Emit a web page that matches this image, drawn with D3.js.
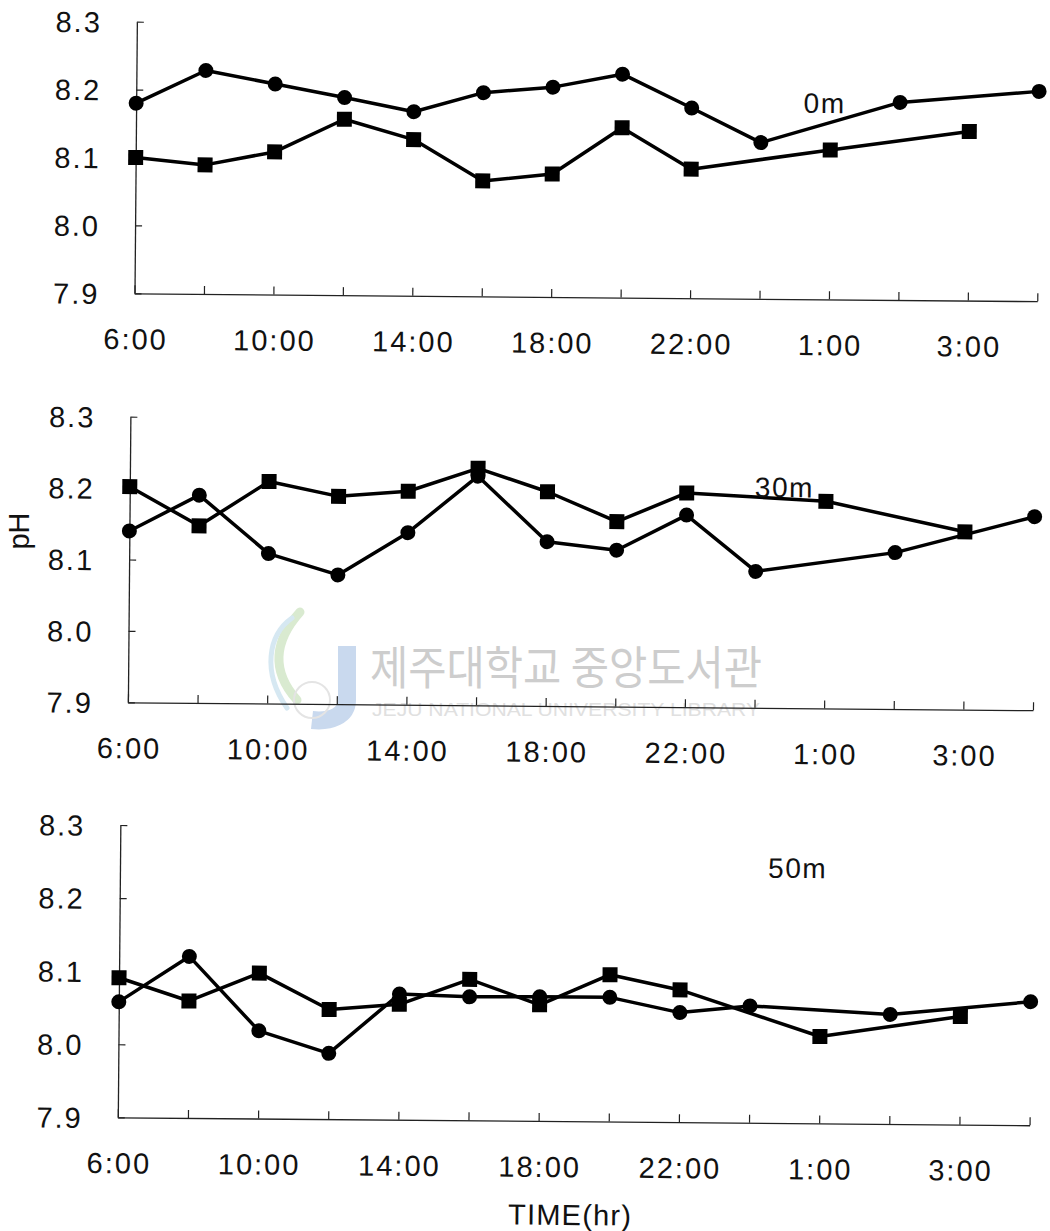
<!DOCTYPE html>
<html>
<head>
<meta charset="utf-8">
<script src="https://cdn.jsdelivr.net/npm/d3@7"></script>
<style>
  html, body { margin: 0; padding: 0; background: #fff; }
  svg { display: block; }
  text { font-family: "Liberation Sans", Arial, Helvetica, sans-serif; fill: #111; }
</style>
</head>
<body>
<svg id="chart" width="1050" height="1231"></svg>
<script>
// ---- data ----
const categories = ["6:00","8:00","10:00","12:00","14:00","16:00","18:00","20:00","22:00","0:00","1:00","2:00","3:00","4:00"];
const shownTickLabels = ["6:00","10:00","14:00","18:00","22:00","1:00","3:00"];
const yTicks = [7.9, 8.0, 8.1, 8.2, 8.3];
const depthLabels = ["0m", "30m", "50m"];

const circle0m  = [8.180, 8.229, 8.210, 8.191, 8.171, 8.200, 8.209, 8.229, 8.180, 8.130, null, 8.191, null, 8.209];
const square0m  = [8.100, 8.090, 8.110, 8.159, 8.130, 8.070, 8.081, 8.150, 8.090, null, 8.120, null, 8.149, null];
const circle30m = [8.140, 8.191, 8.110, 8.081, 8.141, 8.221, 8.130, 8.119, 8.169, 8.091, null, 8.119, null, 8.171];
const square30m = [8.202, 8.148, 8.211, 8.191, 8.199, 8.232, 8.200, 8.159, 8.200, null, 8.190, null, 8.149, null];
const circle50m = [8.058, 8.121, 8.020, 7.990, 8.072, 8.069, 8.070, 8.070, 8.050, 8.060, null, 8.050, null, 8.069];
const square50m = [8.091, 8.060, 8.099, 8.050, 8.058, 8.093, 8.059, 8.101, 8.081, null, 8.019, null, 8.048, null];

const yAxisTitle = "pH";
const xAxisTitle = "TIME(hr)";
const watermarkKo = "제주대학교 중앙도서관";
const watermarkEn = "JEJU NATIONAL UNIVERSITY LIBRARY";

// ---- layout ----
const svg = d3.select("#chart");
svg.append("rect").attr("width", 1050).attr("height", 1231).attr("fill", "#fff");

// watermark (drawn beneath the chart)
const wm = svg.append("g");
wm.append("path")
  .attr("d", "M297,700 C270,670 275,640 300,612")
  .attr("fill", "none").attr("stroke", "#d9ead0").attr("stroke-width", 9).attr("stroke-linecap", "round");
wm.append("path")
  .attr("d", "M287,708 C262,672 268,635 292,618")
  .attr("fill", "none").attr("stroke", "#d6e8f2").attr("stroke-width", 5).attr("stroke-linecap", "round");
wm.append("path")
  .attr("d", "M347,646 L347,700 C347,716 330,722 312,720")
  .attr("fill", "none").attr("stroke", "#c9d9ee").attr("stroke-width", 18).attr("stroke-linecap", "butt");
wm.append("circle").attr("cx", 312).attr("cy", 700).attr("r", 18)
  .attr("fill", "none").attr("stroke", "#e4e4e4").attr("stroke-width", 2);
wm.append("text").text(watermarkKo)
  .attr("x", 370).attr("y", 684)
  .attr("textLength", 392).attr("lengthAdjust", "spacingAndGlyphs")
  .style("font-family", "'Noto Sans CJK KR', sans-serif")
  .style("font-size", "46px").style("fill", "#cdcdcd");
wm.append("text").text(watermarkEn)
  .attr("x", 372).attr("y", 716)
  .attr("textLength", 388).attr("lengthAdjust", "spacingAndGlyphs")
  .style("font-size", "19px").style("fill", "#e0e0e0");

const panels = [
  { circ: circle0m,  sq: square0m,  x0: 134.5, x1: 1037.3, yB: 293.3,  yT: 21.7,  lab: depthLabels[0], lx: 802, ly: 107 },
  { circ: circle30m, sq: square30m, x0: 127.9, x1: 1033.0, yB: 702.3,  yT: 416.7, lab: depthLabels[1], lx: 753, ly: 491.5 },
  { circ: circle50m, sq: square50m, x0: 117.8, x1: 1029.6, yB: 1117.3, yT: 825.0, lab: depthLabels[2], lx: 766, ly: 872 }
];

const tilt = 0.5; // scan tilt in degrees

panels.forEach((p, pi) => {
  const g = svg.append("g").attr("transform", `rotate(${tilt},${p.x0},${p.yB})`);
  const x = d3.scalePoint().domain(categories).range([p.x0, p.x1]);
  const y = d3.scaleLinear().domain([7.9, 8.3]).range([p.yB, p.yT]);

  // y axis
  const ya = g.append("g").attr("transform", `translate(${p.x0},0)`)
    .call(d3.axisLeft(y).tickValues(yTicks).tickFormat(d3.format(".1f")).tickSize(-7).tickSizeOuter(0).tickPadding(35));
  ya.select(".domain").attr("stroke", "#222").attr("stroke-width", 1.3);
  ya.selectAll(".tick line").attr("stroke", "#222").attr("stroke-width", 1.2);
  ya.selectAll(".tick text")
    .style("font-size", "29px").style("letter-spacing", "2px").attr("dy", "0.36em").attr("fill", "#111");

  // x axis
  const xa = g.append("g").attr("transform", `translate(0,${p.yB})`)
    .call(d3.axisBottom(x).tickSize(-8).tickSizeOuter(0)
      .tickFormat(d => shownTickLabels.includes(d) && categories.indexOf(d) % 2 === 0 ? d : ""));
  xa.select(".domain").attr("stroke", "#222").attr("stroke-width", 1.3);
  xa.selectAll(".tick line").attr("stroke", "#222").attr("stroke-width", 1.2);
  xa.selectAll(".tick text")
    .attr("y", 56).attr("dy", 0).attr("dx", "1px")
    .style("font-size", "29px").style("letter-spacing", "2px").attr("fill", "#111");

  const line = d3.line().x(d => x(d.c)).y(d => y(d.v));
  const circPts = categories.map((c, i) => ({ c, v: p.circ[i] })).filter(d => d.v != null);
  const sqPts = categories.map((c, i) => ({ c, v: p.sq[i] })).filter(d => d.v != null);

  g.append("path").datum(circPts).attr("d", line)
    .attr("fill", "none").attr("stroke", "#000").attr("stroke-width", 3.5).attr("stroke-linejoin", "round");
  g.append("path").datum(sqPts).attr("d", line)
    .attr("fill", "none").attr("stroke", "#000").attr("stroke-width", 3.5).attr("stroke-linejoin", "round");

  g.selectAll(".cm").data(circPts).join("circle")
    .attr("cx", d => x(d.c)).attr("cy", d => y(d.v)).attr("r", 7.5).attr("fill", "#000");
  const s = 15;
  g.selectAll(".sm").data(sqPts).join("rect")
    .attr("x", d => x(d.c) - s / 2).attr("y", d => y(d.v) - s / 2)
    .attr("width", s).attr("height", s).attr("fill", "#000");

  g.append("text").text(p.lab)
    .attr("x", p.lx).attr("y", p.ly)
    .style("font-size", "28px").style("letter-spacing", "1.5px");

  if (pi === 2) {
    g.append("text").text(xAxisTitle)
      .attr("x", 571).attr("y", 1221).attr("text-anchor", "middle")
      .style("font-size", "29px").style("letter-spacing", "1.2px");
  }
});

svg.append("text").text(yAxisTitle)
  .attr("transform", "translate(29,531) rotate(-90)")
  .attr("text-anchor", "middle")
  .style("font-size", "29px");
</script>
</body>
</html>
